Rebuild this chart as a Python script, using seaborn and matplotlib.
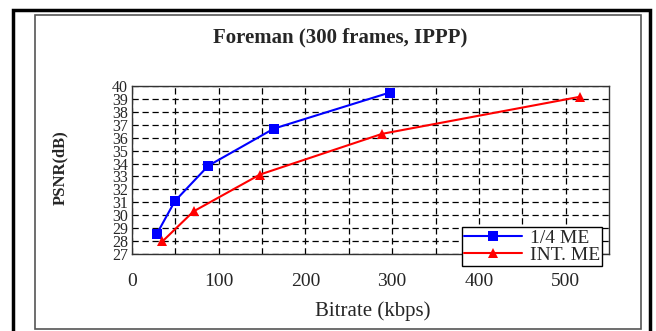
import matplotlib
matplotlib.use("Agg")
import matplotlib.pyplot as plt
import seaborn as sns
import pandas as pd
from matplotlib.patches import Rectangle
from matplotlib.lines import Line2D

bitrate_qme = [28.8, 49.5, 88, 163.5, 297]
psnr_qme = [28.58, 31.1, 33.83, 36.7, 39.49]
bitrate_int = [35, 71, 147.6, 288.5, 516]
psnr_int = [27.97, 30.3, 33.15, 36.3, 39.16]
series_names = ["1/4 ME", "INT. ME"]
x_ticks = [0, 100, 200, 300, 400, 500]
x_minor = [50, 150, 250, 350, 450]
y_ticks = list(range(27, 41))

df = pd.DataFrame({
    "Bitrate": bitrate_qme + bitrate_int,
    "PSNR": psnr_qme + psnr_int,
    "Series": [series_names[0]] * len(bitrate_qme) + [series_names[1]] * len(bitrate_int),
})

sns.set_style("white")
plt.rcParams["font.family"] = ["Liberation Serif", "DejaVu Serif"]

fig = plt.figure(figsize=(6.56, 3.31), dpi=100)
# decorative frames
fig.patches.append(Rectangle((13/656, -0.05), (650-13)/656, 1 - 10/331 + 0.05, transform=fig.transFigure,
                             fill=False, edgecolor="black", linewidth=2.5))
fig.patches.append(Rectangle((35/656, 1 - 329/331), (641-35)/656, (329-15)/331, transform=fig.transFigure,
                             fill=False, edgecolor="#555555", linewidth=1.2))

ax = fig.add_axes([132/656, 1 - 254/331, (609-132)/656, (254-86)/331])
sns.lineplot(data=df, x="Bitrate", y="PSNR", hue="Series", style="Series",
             palette={series_names[0]: "#0000ff", series_names[1]: "#ff0000"},
             markers={series_names[0]: "s", series_names[1]: "^"},
             dashes=False, markersize=7, linewidth=1.5, markeredgewidth=0,
             sort=False, ax=ax, legend=False)

ax.set_xlim(0, 550)
ax.set_ylim(27, 40)
ax.set_xticks(x_ticks)
ax.set_xticks(x_minor, minor=True)
ax.set_yticks(y_ticks)
ax.tick_params(axis="both", which="both", length=0, pad=3)
ax.tick_params(axis="y", labelsize=11.5)
ax.tick_params(axis="x", labelsize=14, pad=14)
ax.grid(True, which="both", linestyle=(0, (5, 3)), color="black", linewidth=0.9)
ax.set_axisbelow(True)
for s in ax.spines.values():
    s.set_color("#333333")
    s.set_linewidth(1.0)
ax.set_xlabel("")
ax.set_ylabel("")

fig.text(340/656, 1 - 37/331, "Foreman (300 frames, IPPP)", ha="center", va="center",
         fontsize=15, fontweight="bold")
fig.text(373/656, 1 - 311/331, "Bitrate (kbps)", ha="center", va="center", fontsize=15)
fig.text(60/656, 1 - 168/331, "PSNR(dB)", ha="center", va="center", rotation=90,
         fontsize=12, fontweight="bold")

handles = [Line2D([], [], color="#0000ff", marker="s", markersize=7, linewidth=1.5, markeredgewidth=0),
           Line2D([], [], color="#ff0000", marker="^", markersize=7, linewidth=1.5, markeredgewidth=0)]
leg = fig.legend(handles, series_names, loc="upper left",
                 bbox_to_anchor=(462/656, 1 - 227/331), fontsize=14, frameon=True,
                 fancybox=False, framealpha=1, edgecolor="black", borderpad=0.1,
                 handlelength=3.0, handletextpad=0.4, labelspacing=0.0, borderaxespad=0)
leg.get_frame().set_linewidth(1.0)

fig.savefig("out.png", dpi=100)
